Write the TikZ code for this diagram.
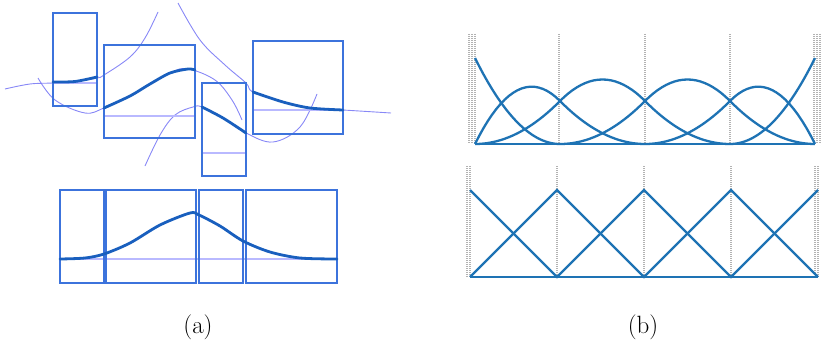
\documentclass[tikz,border=0pt]{standalone}
\usepackage{tikz}
\usetikzlibrary{calc}
\usepackage{xcolor}
\definecolor{boxblue}{RGB}{60,115,220}
\definecolor{curveblue}{RGB}{25,95,190}
\definecolor{extblue}{RGB}{115,115,245}
\definecolor{meanviolet}{RGB}{185,185,255}
\definecolor{splblue}{RGB}{30,115,180}
\tikzstyle{win} = [draw=boxblue, line width=1.2pt]
\tikzstyle{meanline} = [draw=meanviolet, line width=1.3pt]
\tikzstyle{piece} = [draw=curveblue, line width=2.8pt, line cap=round]
\tikzstyle{ext} = [draw=extblue, line width=0.9pt, opacity=0.85]
\tikzstyle{knot} = [draw=gray!60, line width=1.1pt, dash pattern=on 1pt off 1pt]
\tikzstyle{basis} = [draw=splblue, line width=2.3pt]
\tikzstyle{caption} = [font=\fontsize{25}{29}\selectfont]

\begin{document}
\begin{tikzpicture}[x=1pt, y=-1pt,
    declare function={qb(\s)=ifthenelse(\s<1, 0.5*\s*\s, ifthenelse(\s<2, (-2*\s*\s+6*\s-3)/2, 0.5*(3-\s)*(3-\s)));
                      nb(\s)=ifthenelse(\s<1, 2*\s-1.5*\s*\s, 0.5*(2-\s)*(2-\s));}]
    \useasboundingbox (0,0) rectangle (821,345);

    % (a) upper row: extended local fits
    \draw [ext] plot[smooth, tension=0.6] coordinates {(5,89) (30,84) (53,83) (75,81.5) (97,78) (104,75) (130,57) (145,38) (158,12)};
    \draw [ext] plot[smooth, tension=0.6] coordinates {(38,78) (55,100) (85,113) (104,108) (130,96) (170,73) (188,69) (215,80) (232,100) (242,120)};
    \draw [ext] plot[smooth, tension=0.6] coordinates {(145,166) (160,135) (175,115) (193,107) (202,107) (223,118) (246,133) (273,142) (300,127) (317,94)};
    \draw [ext] plot[smooth, tension=0.6] coordinates {(178,3) (200,40) (225,65) (246,83) (253,92) (283,102) (310,108) (343,110) (391,113)};

    \draw [meanline] (53,83) -- (97,83);
    \draw [meanline] (104,116) -- (195,116);
    \draw [meanline] (202,153) -- (246,153);
    \draw [meanline] (253,110) -- (343,110);

    \draw [win] (53,13) rectangle (97,106);
    \draw [win] (104,45) rectangle (195,138);
    \draw [win] (202,83) rectangle (246,176);
    \draw [win] (253,41) rectangle (343,134);

    \draw [piece] plot[smooth] coordinates {(53,82) (75,81.5) (97,77)};
    \draw [piece] plot[smooth] coordinates {(104,108) (130,96) (150,84) (170,73) (188,69) (195,70)};
    \draw [piece] plot[smooth] coordinates {(202,107) (223,118) (246,133)};
    \draw [piece] plot[smooth] coordinates {(253,92) (283,102) (310,108) (343,110)};

    % (a) lower row: blended result
    \draw [meanline] (60,259) -- (337,259);
    \foreach \xa/\xb in {60/104, 106/196, 199/243, 246/337}
        \draw [win] (\xa,190) rectangle (\xb,283);
    \draw [piece] plot[smooth] coordinates {(60,259) (85,258) (104,254) (130,243) (160,225) (190,213) (199,215) (220,226) (243,241) (270,252) (300,258) (337,259)};

    \node (capA) [caption] at (198,327) {(a)};

    % (b) upper: quadratic B-spline basis
    \foreach \kx in {469,472,475,559,645,730,814,817,820}
        \draw [knot] (\kx,34) -- (\kx,144);
    \begin{scope}[shift={(475,144)}, x=85pt, y=86pt]
        \draw [basis] (0,0) -- (4,0);
        \draw [basis] plot[domain=0:1, samples=31] (\x, {(1-\x)*(1-\x)});
        \draw [basis] plot[domain=0:2, samples=41] (\x, {nb(\x)});
        \draw [basis] plot[domain=0:3, samples=61] (\x, {qb(\x)});
        \draw [basis] plot[domain=1:4, samples=61] (\x, {qb(\x-1)});
        \draw [basis] plot[domain=2:4, samples=41] (\x, {nb(4-\x)});
        \draw [basis] plot[domain=3:4, samples=31] (\x, {(\x-3)*(\x-3)});
    \end{scope}

    % (b) lower: linear basis
    \foreach \kx in {467,470,557,644,731,815,818}
        \draw [knot] (\kx,166) -- (\kx,277);
    \draw [basis] (470,277) -- (818,277);
    \draw [basis] (470,190) -- (557,277) -- (644,190) -- (731,277) -- (818,190);
    \draw [basis] (470,277) -- (557,190) -- (644,277) -- (731,190) -- (818,277);

    \node (capB) [caption] at (643,327) {(b)};
\end{tikzpicture}
\end{document}
